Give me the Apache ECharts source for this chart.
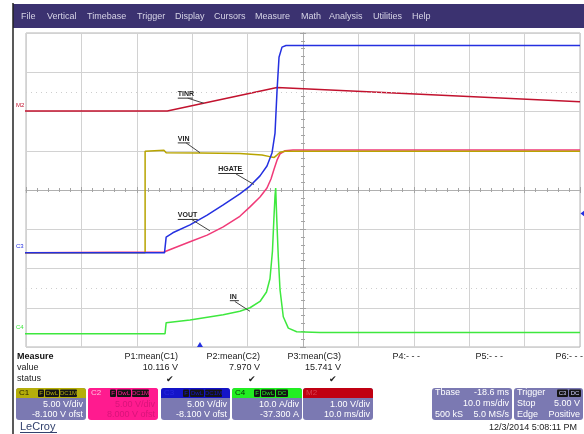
<!DOCTYPE html>
<html>
<head>
<meta charset="utf-8">
<script src="https://cdn.jsdelivr.net/npm/echarts@6/dist/echarts.min.js"></script>
<style>
html, body { margin:0; padding:0; background:#fff; }
#scope { width:584px; height:434px; }
</style>
</head>
<body>
<div id="scope"></div>
<script>
// x = ms from screen centre (10 ms/div), y = divisions from centre
var c1Vin = [[-51.4,-1.60],[-28.5,-1.60],[-28.5,0.99],[-25.1,1.01],[-24.7,0.95],[-18.6,0.94],[-11.4,0.93],[-7.4,0.89],[-6.0,0.85],[-5.2,0.83],[-4.7,0.89],[-4.15,0.96],[-3.25,0.985],[50,0.985]];
var c2Vout = [[-51.4,-1.60],[-25.1,-1.58],[-23.5,-1.49],[-20.4,-1.32],[-17.3,-1.15],[-14.4,-0.94],[-11.4,-0.67],[-9.57,-0.43],[-7.76,-0.18],[-6.50,0.05],[-5.78,0.28],[-5.23,0.53],[-4.69,0.76],[-4.15,0.92],[-3.25,1.00],[-1.81,1.02],[50,1.02]];
var c3Hgate = [[-51.4,-1.60],[-25.0,-1.60],[-24.7,-1.20],[-23.5,-1.09],[-20.4,-0.89],[-17.3,-0.64],[-14.4,-0.38],[-11.4,-0.10],[-9.57,0.10],[-7.76,0.36],[-6.50,0.61],[-5.60,0.94],[-5.05,1.45],[-4.69,2.52],[-4.33,3.38],[-3.79,3.64],[-3.07,3.68],[50,3.68]];
var c4In = [[-51.4,-3.66],[-24.9,-3.66],[-24.7,-3.38],[-20.4,-3.31],[-14.4,-3.18],[-11.4,-3.09],[-9.57,-3.00],[-7.76,-2.84],[-6.59,-2.60],[-5.96,-2.26],[-5.51,-1.55],[-5.23,-0.66],[-5.05,-0.15],[-4.93,0.05],[-4.75,-0.69],[-4.46,-1.70],[-4.15,-2.54],[-3.56,-3.23],[-2.65,-3.52],[-1.14,-3.61],[3.07,-3.63],[50,-3.63]];
var m2Tinr = [[-51.4,2.01],[-24.5,2.01],[-4.69,2.61],[50,2.25]];

var menuItems = ['File','Vertical','Timebase','Trigger','Display','Cursors','Measure','Math','Analysis','Utilities','Help'];
var measNames = ['P1:mean(C1)','P2:mean(C2)','P3:mean(C3)','P4:- - -','P5:- - -','P6:- - -'];
var measValues = ['10.116 V','7.970 V','15.741 V','','',''];
var measStatus = ['\u2714','\u2714','\u2714','','',''];

// labels: text, left/underline point, leader end (same units as traces)
var notes = [
  {text:'TINR', at:[-22.6,2.34], w:15, from:[-20.8,2.34], to:[-17.9,2.21]},
  {text:'VIN', at:[-22.6,1.20], w:12, from:[-21.1,1.20], to:[-18.6,0.95]},
  {text:'HGATE', at:[-15.3,0.42], w:25, from:[-12.1,0.41], to:[-8.84,0.14]},
  {text:'VOUT', at:[-22.6,-0.75], w:20, from:[-20.0,-0.76], to:[-16.8,-1.04]},
  {text:'IN', at:[-13.2,-2.82], w:9, from:[-12.3,-2.84], to:[-9.57,-3.09]}
];

var FONT = '"Liberation Sans", Arial, sans-serif';
var SLATE = '#7b79b2';

function txt(s, x, y, size, color, align, weight) {
  align = align || 'left';
  return {type:'text', silent:true, z:20, style:{text:s, x:x, y:y, fill:color,
    font:(weight || 'normal') + ' ' + size + 'px ' + FONT,
    textAlign:align, align:align, textVerticalAlign:'middle', verticalAlign:'middle'}};
}
function rect(x, y, w, h, fill, r) {
  return {type:'rect', silent:true, z:15, shape:{x:x, y:y, width:w, height:h, r:r || 0}, style:{fill:fill}};
}
function seg(x1, y1, x2, y2, color, w) {
  return {type:'line', silent:true, z:20, shape:{x1:x1, y1:y1, x2:x2, y2:y2}, style:{stroke:color, lineWidth:w || 1}};
}

function trace(name, data, color, z) {
  return {name:name, type:'line', data:data, symbol:'none', showSymbol:false, clip:false,
    silent:true, animation:false, z:z, lineStyle:{color:color, width:1.5}};
}

var tickStyle = {color:'#a4a4a4', width:1};
function xAx(inside, split) {
  return {type:'value', min:-50, max:50, interval:10, position:'bottom',
    axisLine:{show:true, onZero:true, lineStyle:{color:'#b0b0b0'}},
    axisTick:{show:true, inside:inside, length:3, lineStyle:tickStyle},
    minorTick:{show:true, splitNumber:5, length:2, lineStyle:tickStyle},
    axisLabel:{show:false}, splitLine:{show:split, lineStyle:{color:'#d2d2d2'}}, minorSplitLine:{show:false}};
}
function yAx(inside, split) {
  return {type:'value', min:-4, max:4, interval:1, position:'left',
    axisLine:{show:true, onZero:true, lineStyle:{color:'#b0b0b0'}},
    axisTick:{show:true, inside:inside, length:3, lineStyle:tickStyle},
    minorTick:{show:true, splitNumber:5, length:2, lineStyle:tickStyle},
    axisLabel:{show:false}, splitLine:{show:split, lineStyle:{color:'#d2d2d2'}}, minorSplitLine:{show:false}};
}

var chart = echarts.init(document.getElementById('scope'));
var m2 = trace('M2', m2Tinr, '#c2122e', 3);
m2.markLine = {silent:true, symbol:'none', label:{show:false}, animation:false,
  lineStyle:{color:'#cdcdcd', type:[1,4], width:1}, data:[{yAxis:2.5},{yAxis:-2.5}]};

chart.setOption({
  animation:false,
  backgroundColor:'#ffffff',
  grid:{left:26, top:33, width:554, height:314, show:true, borderColor:'#b4b4b4', borderWidth:1, backgroundColor:'transparent'},
  xAxis:[xAx(false, true), xAx(true, false)],
  yAxis:[yAx(false, true), yAx(true, false)],
  series:[
    trace('C4', c4In, '#3ee83e', 2),
    m2,
    trace('C2', c2Vout, '#f03a78', 4),
    trace('C1', c1Vin, '#b8a400', 4.5),
    trace('C3', c3Hgate, '#2430e0', 5)
  ]
});

var g = [];
// frame + menu bar
g.push(seg(13, 3, 13, 434, '#222', 1.5));
g.push(rect(13, 4, 571, 24, '#3b3270'));
var mx = [21, 47, 87, 137, 175, 214, 255, 301, 329, 373, 412];
menuItems.forEach(function (m, i) { g.push(txt(m, mx[i], 16.5, 9, '#d6d4e6')); });

// channel markers on the left
function px(p) { return chart.convertToPixel({gridIndex:0}, p); }
var mk = [['M2', m2Tinr[0], '#c2122e'], ['C3', c3Hgate[0], '#2430e0'], ['C4', c4In[0], '#3ee83e']];
mk.forEach(function (m) {
  var p = px(m[1]);
  g.push(txt(m[0], 16, p[1] - 6, 6, m[2]));
});
// trigger level and trigger position markers
var tl = px([50, -0.6]);
g.push({type:'polygon', silent:true, z:20, shape:{points:[[tl[0] + 0.5, tl[1]], [tl[0] + 5, tl[1] - 3.5], [tl[0] + 5, tl[1] + 3.5]]}, style:{fill:'#2430e0'}});
var tp = px([-18.6, -4]);
g.push({type:'polygon', silent:true, z:20, shape:{points:[[tp[0], tp[1] - 5], [tp[0] - 3, tp[1]], [tp[0] + 3, tp[1]]]}, style:{fill:'#2430e0'}});

// annotations
notes.forEach(function (n) {
  var a = px(n.at), f = px(n.from), t = px(n.to);
  g.push(txt(n.text, a[0], a[1] - 4, 7, '#222', 'left', 'bold'));
  g.push(seg(a[0], a[1], a[0] + n.w, a[1], '#333', 1));
  g.push(seg(f[0], f[1], t[0], t[1], '#444', 1));
});

// measurement table
g.push(txt('Measure', 17, 357, 9, '#111', 'left', 'bold'));
g.push(txt('value', 17, 368, 9, '#222'));
g.push(txt('status', 17, 379, 9, '#222'));
var colR = [178, 260, 341, 420, 503, 583];
measNames.forEach(function (s, i) {
  g.push(txt(s, colR[i], 357, 9, '#222', 'right'));
  if (measValues[i]) g.push(txt(measValues[i], colR[i], 368, 9, '#222', 'right'));
  if (measStatus[i]) g.push(txt(measStatus[i], colR[i] - 4, 380, 9, '#222', 'right'));
});

// channel descriptor boxes
var boxes = [
  {x:16, w:70, head:'#b5ae0a', tag:'C1', tagColor:'#2a2800', body:SLATE, ink:'#ffffff', l1:'5.00 V/div', l2:'-8.100 V ofst', badge:true},
  {x:88, w:70, head:'#ff1b8f', tag:'C2', tagColor:'#ffc0dc', body:'#ff1b8f', ink:'#d8147a', l1:'5.00 V/div', l2:'8.000 V ofst', badge:true},
  {x:161, w:69, head:'#1414c8', tag:'C3', tagColor:'#2828e0', body:SLATE, ink:'#ffffff', l1:'5.00 V/div', l2:'-8.100 V ofst', badge:true},
  {x:232, w:70, head:'#22ee22', tag:'C4', tagColor:'#063006', body:SLATE, ink:'#ffffff', l1:'10.0 A/div', l2:'-37.300 A', badge:true},
  {x:303, w:70, head:'#c00012', tag:'M2', tagColor:'#d84050', body:SLATE, ink:'#ffffff', l1:'1.00 V/div', l2:'10.0 ms/div', badge:false}
];
boxes.forEach(function (b) {
  g.push(rect(b.x, 388, b.w, 32, b.body, 3));
  g.push(rect(b.x, 388, b.w, 10, b.head, [3, 3, 0, 0]));
  g.push(txt(b.tag, b.x + 3, 393, 8, b.tagColor));
  if (b.badge) {
    var bx = b.x + 22;
    [['F', 6], ['DwL', 14], [b.tag === 'C4' ? 'DC' : 'DC1M', b.tag === 'C4' ? 12 : 17]].forEach(function (q) {
      g.push(rect(bx, 389.5, q[1], 7.5, '#141414', 1));
      g.push(txt(q[0], bx + q[1] / 2, 393.3, 6, b.head, 'center'));
      bx += q[1] + 1;
    });
  }
  g.push(txt(b.l1, b.x + b.w - 3, 405, 9, b.ink, 'right'));
  g.push(txt(b.l2, b.x + b.w - 3, 415, 9, b.ink, 'right'));
});

// timebase + trigger boxes
g.push(rect(432, 388, 80, 32, SLATE, 3));
g.push(txt('Tbase', 435, 393, 9, '#ffffff'));
g.push(txt('-18.6 ms', 509, 393, 9, '#ffffff', 'right'));
g.push(txt('10.0 ms/div', 509, 404, 9, '#ffffff', 'right'));
g.push(txt('500 kS', 435, 414.5, 9, '#ffffff'));
g.push(txt('5.0 MS/s', 509, 414.5, 9, '#ffffff', 'right'));
g.push(rect(514, 388, 69, 32, SLATE, 3));
g.push(txt('Trigger', 517, 393, 9, '#ffffff'));
g.push(rect(557, 389.5, 11, 7.5, '#141414', 1));
g.push(txt('C3', 562.5, 393.3, 6, '#d0d0ff', 'center'));
g.push(rect(569, 389.5, 12, 7.5, '#141414', 1));
g.push(txt('DC', 575, 393.3, 6, '#d0d0ff', 'center'));
g.push(txt('Stop', 517, 404, 9, '#ffffff'));
g.push(txt('5.00 V', 580, 404, 9, '#ffffff', 'right'));
g.push(txt('Edge', 517, 414.5, 9, '#ffffff'));
g.push(txt('Positive', 580, 414.5, 9, '#ffffff', 'right'));

// footer
g.push(txt('LeCroy', 20, 427, 11, '#33426e'));
g.push(seg(20, 432.5, 57, 432.5, '#33426e', 1));
g.push(txt('12/3/2014 5:08:11 PM', 577, 428, 9, '#222', 'right'));

chart.setOption({graphic:g});
</script>
</body>
</html>
